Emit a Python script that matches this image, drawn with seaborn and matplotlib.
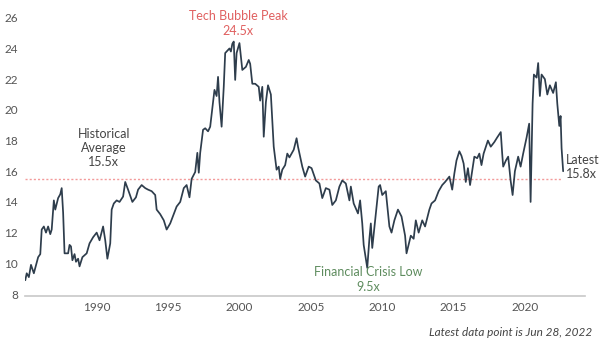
import matplotlib
matplotlib.use("Agg")
import matplotlib.pyplot as plt
import seaborn as sns
import pandas as pd

years = [1985.0, 1985.1, 1985.25, 1985.4, 1985.6, 1985.9, 1986.05, 1986.15, 1986.3, 1986.45,
         1986.6, 1986.75, 1986.85, 1987.0, 1987.1, 1987.3, 1987.45, 1987.55, 1987.65, 1987.75,
         1988.0, 1988.1, 1988.2, 1988.3, 1988.45, 1988.55, 1988.7, 1988.8, 1989.0, 1989.3,
         1989.5, 1989.75, 1990.0, 1990.2, 1990.45, 1990.6, 1990.75, 1990.95, 1991.05, 1991.2,
         1991.4, 1991.6, 1991.85, 1992.0, 1992.2, 1992.5, 1992.75, 1992.9, 1993.15, 1993.4,
         1993.6, 1993.85, 1994.1, 1994.2, 1994.45, 1994.7, 1994.9, 1995.15, 1995.4, 1995.6,
         1995.85, 1996.1, 1996.3, 1996.5, 1996.65, 1996.9, 1997.05, 1997.15, 1997.25, 1997.45,
         1997.6, 1997.8, 1997.95, 1998.15, 1998.25, 1998.4, 1998.5, 1998.6, 1998.75, 1998.9,
         1999.0, 1999.3, 1999.4, 1999.5, 1999.6, 1999.7, 1999.8, 2000.0, 2000.2, 2000.45,
         2000.65, 2000.75, 2000.9, 2001.1, 2001.35, 2001.45, 2001.6, 2001.7, 2001.85, 2002.0,
         2002.2, 2002.3, 2002.4, 2002.6, 2002.75, 2002.85, 2003.0, 2003.2, 2003.35, 2003.5,
         2003.8, 2004.0, 2004.1, 2004.4, 2004.6, 2004.85, 2005.05, 2005.35, 2005.6, 2005.8,
         2006.05, 2006.3, 2006.5, 2006.75, 2007.0, 2007.2, 2007.45, 2007.7, 2007.8, 2008.0,
         2008.3, 2008.45, 2008.6, 2008.7, 2008.95, 2009.1, 2009.2, 2009.3, 2009.55, 2009.75,
         2009.85, 2010.0, 2010.25, 2010.5, 2010.65, 2010.85, 2011.1, 2011.35, 2011.6, 2011.7,
         2012.0, 2012.2, 2012.35, 2012.55, 2012.8, 2013.0, 2013.3, 2013.45, 2013.7, 2013.95,
         2014.2, 2014.4, 2014.7, 2014.9, 2015.05, 2015.2, 2015.4, 2015.55, 2015.7, 2015.85,
         2016.0, 2016.15, 2016.45, 2016.65, 2016.8, 2016.95, 2017.1, 2017.4, 2017.6, 2017.85,
         2018.05, 2018.3, 2018.4, 2018.47, 2018.66, 2018.82, 2018.99, 2019.13, 2019.29, 2019.52,
         2019.69, 2019.87, 2020.11, 2020.29, 2020.39, 2020.53, 2020.62, 2020.81, 2020.92, 2021.04,
         2021.16, 2021.39, 2021.56, 2021.74, 2021.97, 2022.16, 2022.26, 2022.4, 2022.49, 2022.56,
         2022.67]

pe_ratio = [8.9, 9.35, 9.1, 9.9, 9.35, 10.4, 10.6, 12.2, 12.4, 12.0,
            12.4, 11.9, 12.2, 14.1, 13.5, 14.25, 14.5, 14.9, 13.3, 10.65,
            10.65, 11.2, 11.1, 10.2, 10.6, 10.1, 10.3, 9.8, 10.4, 10.65,
            11.3, 11.7, 12.0, 11.5, 12.4, 11.5, 10.3, 11.3, 13.5, 13.9,
            14.1, 14.0, 14.35, 15.3, 14.8, 14.0, 14.3, 14.8, 15.1, 14.9,
            14.8, 14.7, 14.45, 13.5, 13.2, 12.8, 12.2, 12.6, 13.2, 13.7,
            14.0, 14.9, 15.1, 14.3, 15.5, 15.95, 17.2, 15.9, 17.2, 18.7,
            18.8, 18.6, 18.9, 20.5, 21.3, 20.9, 22.15, 20.5, 18.9, 21.5,
            23.7, 24.0, 23.8, 24.3, 24.45, 21.95, 23.7, 24.35, 22.6, 22.8,
            23.25, 23.0, 21.7, 21.7, 21.5, 20.6, 21.5, 18.25, 20.5, 21.6,
            21.0, 19.35, 17.6, 16.1, 16.3, 15.5, 16.1, 16.4, 17.15, 16.9,
            17.4, 18.15, 17.6, 16.3, 15.65, 16.3, 16.2, 15.4, 15.2, 14.25,
            14.9, 14.8, 13.8, 14.1, 15.0, 15.4, 15.2, 14.1, 15.0, 13.9,
            13.25, 14.1, 12.6, 11.2, 9.7, 11.6, 12.6, 11.0, 13.25, 15.0,
            15.1, 14.45, 14.7, 12.4, 12.0, 12.8, 13.5, 13.05, 11.8, 10.65,
            11.8, 11.6, 12.8, 12.0, 12.8, 12.4, 13.5, 13.9, 14.1, 14.7,
            15.1, 15.3, 15.65, 14.8, 15.85, 16.7, 17.3, 17.0, 16.5, 15.3,
            16.2, 15.1, 16.95, 16.85, 17.15, 16.4, 17.15, 18.0, 17.6, 17.9,
            18.2, 18.55, 17.15, 16.3, 16.7, 16.95, 15.4, 14.45, 16.0, 16.95,
            16.3, 17.15, 18.2, 19.1, 14.0, 20.4, 22.3, 22.1, 23.05, 20.9,
            22.3, 22.0, 21.0, 21.6, 21.1, 21.8, 20.4, 18.95, 19.6, 17.5,
            16.0]

average_pe = 15.5
y_ticks = [8, 10, 12, 14, 16, 18, 20, 22, 24, 26]
x_ticks = [1990, 1995, 2000, 2005, 2010, 2015, 2020]

sns.set_style("white")
plt.rcParams['font.family'] = ['Lato', 'DejaVu Sans']

fig = plt.figure(figsize=(6.02, 3.48), dpi=100)
ax = fig.add_axes([25 / 602, 1 - 296 / 348, 560 / 602, 281 / 348])

df = pd.DataFrame({"year": years, "pe": pe_ratio})
sns.lineplot(data=df, x="year", y="pe", ax=ax, color="#2e3d4c", lw=1.25,
             estimator=None, sort=False)

ax.axhline(average_pe, xmin=0.0, xmax=(2022.5 - 1984.98) / (2024.2 - 1984.98),
           color="#f39a9a", linestyle=(0, (1.5, 1.5)), lw=1.0, zorder=1)

ax.set_xlim(1984.98, 2024.2)
ax.set_ylim(7.87, 26.18)
ax.set_yticks(y_ticks)
ax.set_xticks(x_ticks)
ax.set_xlabel("")
ax.set_ylabel("")
ax.tick_params(axis="both", length=0, labelsize=8.5, colors="#555555")
ax.tick_params(axis="y", pad=5)
ax.tick_params(axis="x", pad=4)
for s in ["left", "right", "top"]:
    ax.spines[s].set_visible(False)
ax.spines["bottom"].set_color("#c8c8c8")
ax.spines["bottom"].set_linewidth(1.2)

ax.text(1999.9, 25.65, "Tech Bubble Peak\n24.5x", color="#e06060", fontsize=9,
        ha="center", va="center", linespacing=1.3)
ax.text(1990.5, 17.5, "Historical\nAverage\n15.5x", color="#444444", fontsize=9,
        ha="center", va="center", linespacing=1.2)
ax.text(2009.0, 8.95, "Financial Crisis Low\n9.5x", color="#5e8c5e", fontsize=9,
        ha="center", va="center", linespacing=1.3)
ax.text(2022.85, 16.3, "Latest\n15.8x", color="#444444", fontsize=9,
        ha="left", va="center", linespacing=1.2)
fig.text(592 / 602, 1 - 332 / 348, "Latest data point is Jun 28, 2022", color="#444444",
         fontsize=8.5, style="italic", ha="right", va="center")

fig.savefig("out.png", dpi=100)
